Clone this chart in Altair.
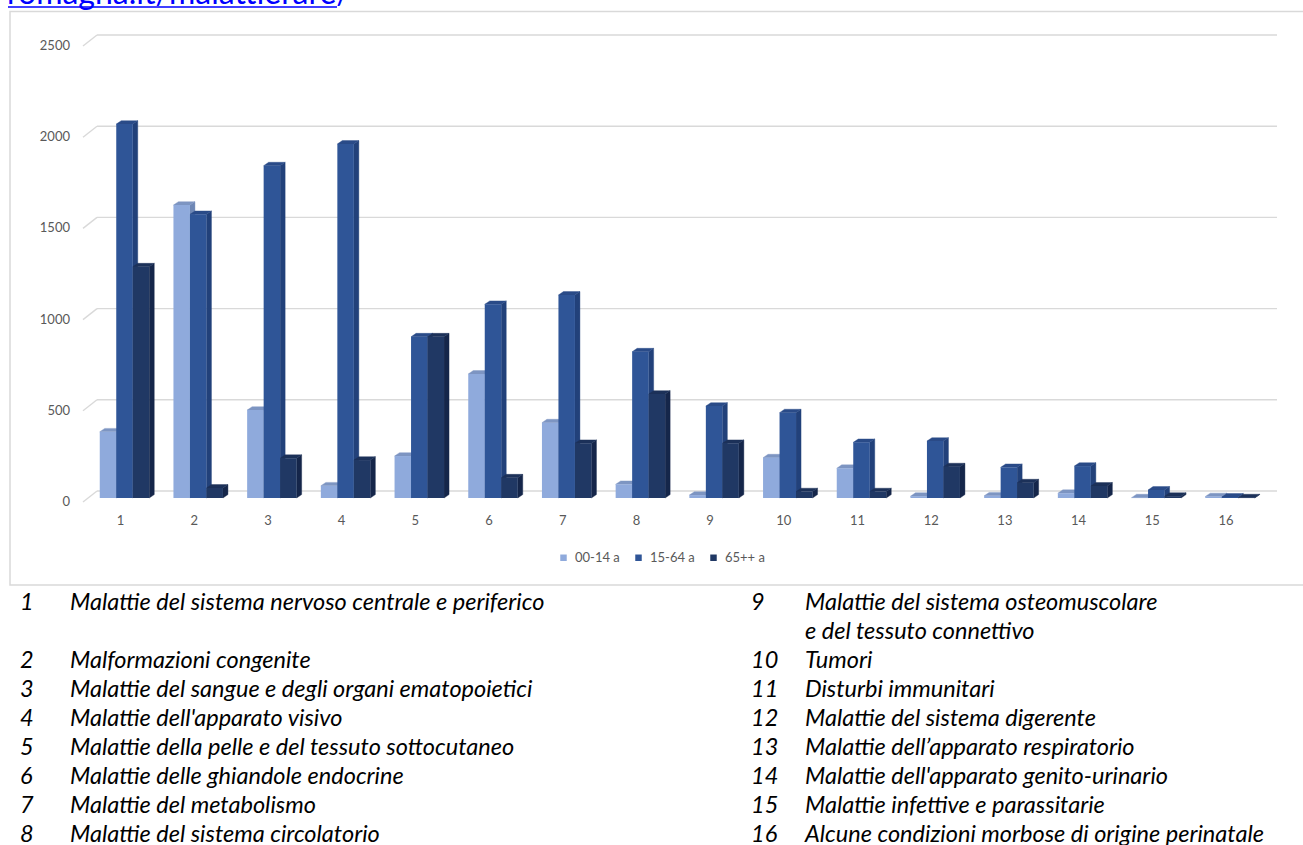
import altair as alt
import pandas as pd

# ---- data -------------------------------------------------------------
categories = list(range(1, 17))
series = ["00-14 a", "15-64 a", "65++ a"]
cases_00_14 = [363, 1606, 482, 67, 230, 680, 413, 75, 16, 221, 163, 10, 12, 26, 2, 8]
cases_15_64 = [2050, 1555, 1822, 1941, 884, 1062, 1113, 802, 504, 468, 305, 312, 168, 175, 44, 6]
cases_65_plus = [1268, 55, 218, 208, 884, 111, 300, 570, 300, 35, 35, 172, 84, 66, 10, 2]
y_ticks = [0, 500, 1000, 1500, 2000, 2500]
disease_names = [
    "Malattie del sistema nervoso centrale e periferico",
    "Malformazioni congenite",
    "Malattie del sangue e degli organi ematopoietici",
    "Malattie dell'apparato visivo",
    "Malattie della pelle e del tessuto sottocutaneo",
    "Malattie delle ghiandole endocrine",
    "Malattie del metabolismo",
    "Malattie del sistema circolatorio",
    "Malattie del sistema osteomuscolare\ne del tessuto connettivo",
    "Tumori",
    "Disturbi immunitari",
    "Malattie del sistema digerente",
    "Malattie dell\u2019apparato respiratorio",
    "Malattie dell'apparato genito-urinario",
    "Malattie infettive e parassitarie",
    "Alcune condizioni morbose di origine perinatale",
]
link_text = "romagna.it/malattierare/"

# ---- styling ----------------------------------------------------------
front_colors = ["#8faadc", "#2f5597", "#203864"]
side_colors = ["#6e87b5", "#22417a", "#15264a"]
top_colors = ["#7d95c2", "#2a4b88", "#1c3159"]
GRID = "#d9d9d9"
AXIS_TXT = "#595959"
FONT = "Lato"
LIST_SIZE = 23.5

# ---- geometry ---------------------------------------------------------
W, H = 1303, 845
BASE_PX = 498.0        # pixel row of value 0 at the bar fronts
PX_PER_UNIT = 0.1824   # pixels per case
X0_PX, SLOT_PX = 50.8, 73.7
BAR_W = 16.5 / SLOT_PX
DX = 5.0 / SLOT_PX           # bar depth, horizontal
DY = 3.4 / PX_PER_UNIT       # bar depth, vertical

xscale = alt.Scale(domain=[-X0_PX / SLOT_PX, (W - X0_PX) / SLOT_PX], nice=False, zero=False)
yscale = alt.Scale(domain=[(BASE_PX - H) / PX_PER_UNIT, BASE_PX / PX_PER_UNIT], nice=False, zero=False)

values = [cases_00_14, cases_15_64, cases_65_plus]
front_rows, side_rows, top_rows = [], [], []
for i, c in enumerate(categories):
    for j, s in enumerate(series):
        v = values[j][i]
        x0 = c - 1.5 * BAR_W + j * BAR_W
        x1 = x0 + BAR_W
        bid = f"{c}-{j}"
        front_rows.append(dict(series=s, x0=x0, x1=x1, v=v, base=0))
        side_rows += [
            dict(id=bid, x=x1, lo=0, hi=v, col=side_colors[j]),
            dict(id=bid, x=x1 + DX, lo=DY, hi=v + DY, col=side_colors[j]),
        ]
        top_rows += [
            dict(id=bid, y=v, xl=x0, xr=x1, col=top_colors[j]),
            dict(id=bid, y=v + DY, xl=x0 + DX, xr=x1 + DX, col=top_colors[j]),
        ]
front_df = pd.DataFrame(front_rows)
side_df = pd.DataFrame(side_rows)
top_df = pd.DataFrame(top_rows)
tick_df = pd.DataFrame({"g": y_ticks, "label": [str(t) for t in y_ticks]})
cat_df = pd.DataFrame({"cat": categories, "label": [str(c) for c in categories]})

# list of disease names below the chart, two columns
ROW0, ROW_STEP = 602.5, 29.0
list_rows = []
for k, name in enumerate(disease_names):
    col = 0 if k < 8 else 1
    r = k if k < 8 else k - 8
    row = 0 if r == 0 else r + 1
    for li, line in enumerate(name.split("\n")):
        list_rows.append(dict(
            num=str(k + 1) if li == 0 else "",
            name=line,
            nx=20 if col == 0 else 751,
            tx=70 if col == 0 else 805,
            py=ROW0 + (row + li) * ROW_STEP,
        ))
list_df = pd.DataFrame(list_rows)

# ---- layers -----------------------------------------------------------
frame = alt.Chart(pd.DataFrame({"a": [0]})).mark_rect(
    fill="white", stroke=GRID, strokeWidth=1.5
).encode(x=alt.value(10), x2=alt.value(1310), y=alt.value(11.5), y2=alt.value(585))

link = alt.Chart(pd.DataFrame({"t": [link_text]})).mark_text(
    align="left", baseline="alphabetic", font=FONT, fontSize=32, color="#0000ff"
).encode(x=alt.value(7), y=alt.value(4), text="t:N")

link_rule = alt.Chart(pd.DataFrame({"a": [0]})).mark_rule(
    color="#0000ff", strokeWidth=1.6
).encode(x=alt.value(8), x2=alt.value(337), y=alt.value(7))

back_grid = alt.Chart(tick_df).mark_rule(
    color=GRID, strokeWidth=1.4, yOffset=-7, y2Offset=-7
).encode(
    y=alt.Y("g:Q", scale=yscale, axis=None), y2="g:Q",
    x=alt.value(97), x2=alt.value(1277),
)

side_grid = alt.Chart(tick_df).mark_rule(
    color=GRID, strokeWidth=1.4, yOffset=4, y2Offset=-7
).encode(
    y=alt.Y("g:Q", scale=yscale, axis=None), y2="g:Q",
    x=alt.value(83), x2=alt.value(97),
)

y_labels = alt.Chart(tick_df).mark_text(
    align="right", baseline="middle", font=FONT, fontSize=13, color=AXIS_TXT, yOffset=4
).encode(y=alt.Y("g:Q", scale=yscale, axis=None), x=alt.value(70), text="label:N")

sides = alt.Chart(side_df).mark_area(orient="vertical", strokeWidth=0.4).encode(
    x=alt.X("x:Q", scale=xscale, axis=None),
    y=alt.Y("hi:Q", scale=yscale, axis=None),
    y2="lo:Q",
    detail="id:N",
    fill=alt.Fill("col:N", scale=None),
    stroke=alt.Stroke("col:N", scale=None),
)

tops = alt.Chart(top_df).mark_area(orient="horizontal", strokeWidth=0.4).encode(
    y=alt.Y("y:Q", scale=yscale, axis=None),
    x=alt.X("xr:Q", scale=xscale, axis=None),
    x2="xl:Q",
    detail="id:N",
    fill=alt.Fill("col:N", scale=None),
    stroke=alt.Stroke("col:N", scale=None),
)

fronts = alt.Chart(front_df).mark_rect().encode(
    x=alt.X("x0:Q", scale=xscale, axis=None),
    x2="x1:Q",
    y=alt.Y("v:Q", scale=yscale, axis=None),
    y2="base:Q",
    color=alt.Color(
        "series:N",
        scale=alt.Scale(domain=series, range=front_colors),
        legend=alt.Legend(
            orient="none", legendX=557, legendY=551, direction="horizontal",
            title=None, symbolType="square", symbolSize=42, symbolStrokeWidth=0,
            labelFont=FONT, labelFontSize=13, labelColor=AXIS_TXT,
            labelOffset=5, columnPadding=12,
        ),
    ),
)

x_labels = alt.Chart(cat_df).mark_text(
    baseline="middle", font=FONT, fontSize=13, color=AXIS_TXT, xOffset=-4
).encode(x=alt.X("cat:Q", scale=xscale, axis=None), y=alt.value(521), text="label:N")

list_nums = alt.Chart(list_df).mark_text(
    align="left", baseline="middle", font=FONT, fontSize=LIST_SIZE, fontStyle="italic", color="black"
).encode(
    x=alt.X("nx:Q", scale=None, axis=None),
    y=alt.Y("py:Q", scale=None, axis=None),
    text="num:N",
)
list_names = alt.Chart(list_df).mark_text(
    align="left", baseline="middle", font=FONT, fontSize=LIST_SIZE, fontStyle="italic", color="black"
).encode(
    x=alt.X("tx:Q", scale=None, axis=None),
    y=alt.Y("py:Q", scale=None, axis=None),
    text="name:N",
)

chart = alt.layer(
    frame, link, link_rule, back_grid, side_grid, y_labels,
    sides, tops, fronts, x_labels, list_nums, list_names,
).resolve_scale(
    x="independent", y="independent"
).properties(
    width=W, height=H,
    autosize=alt.AutoSizeParams(type="none"),
    padding=0,
    background="white",
).configure_view(stroke=None)

chart.save("out.html", embed_options={"renderer": "svg", "actions": False})
